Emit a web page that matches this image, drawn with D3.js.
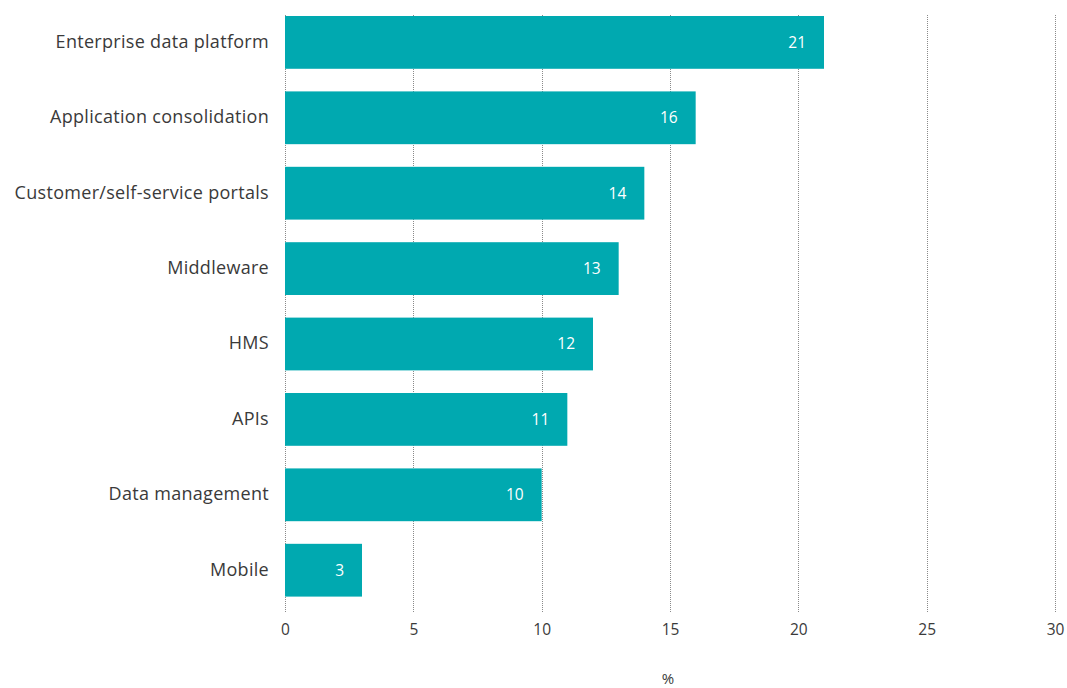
<!DOCTYPE html>
<html>
<head>
<meta charset="utf-8">
<script src="https://cdn.jsdelivr.net/npm/d3@7"></script>
<style>
  html, body { margin: 0; padding: 0; background: #fff; }
  svg { display: block; font-family: "Open Sans", Lato, sans-serif; }
</style>
</head>
<body>
<svg id="chart" width="1067" height="688"></svg>
<script>
// Share of respondents by integration area (%)
const categories = [
  "Enterprise data platform",
  "Application consolidation",
  "Customer/self-service portals",
  "Middleware",
  "HMS",
  "APIs",
  "Data management",
  "Mobile"
];
const values = [21, 16, 14, 13, 12, 11, 10, 3];
const xTicks = [0, 5, 10, 15, 20, 25, 30];
const xTitle = "%";

const svg = d3.select("#chart");
const barColor = "#00a9b0";
const textColor = "#3a3a3a";

const x = d3.scaleLinear().domain([0, 30]).range([285, 1055]);
const y = d3.scaleBand().domain(categories).range([16, 596.6]).paddingInner(0.3).paddingOuter(0);

// dotted vertical gridlines
svg.append("g")
  .selectAll("line")
  .data(xTicks)
  .join("line")
  .attr("x1", d => Math.round(x(d)) + 0.5)
  .attr("x2", d => Math.round(x(d)) + 0.5)
  .attr("y1", 15)
  .attr("y2", 612)
  .attr("stroke", "#8a8a8a")
  .attr("stroke-width", 1)
  .attr("stroke-dasharray", "1,1");

// bars
svg.append("g")
  .selectAll("rect")
  .data(categories)
  .join("rect")
  .attr("x", x(0))
  .attr("y", d => y(d))
  .attr("width", (d, i) => x(values[i]) - x(0))
  .attr("height", y.bandwidth())
  .attr("fill", barColor);

// value labels inside bar ends
svg.append("g")
  .selectAll("text")
  .data(categories)
  .join("text")
  .attr("x", (d, i) => x(values[i]) - 18)
  .attr("y", d => y(d) + y.bandwidth() / 2)
  .attr("dy", "0.35em")
  .attr("text-anchor", "end")
  .attr("fill", "#ffffff")
  .style("font-size", "15.5px")
  .text((d, i) => values[i]);

// category axis labels
svg.append("g")
  .selectAll("text")
  .data(categories)
  .join("text")
  .attr("x", 269)
  .attr("y", d => y(d) + y.bandwidth() / 2)
  .attr("dy", "0.3em")
  .attr("text-anchor", "end")
  .attr("fill", textColor)
  .style("font-size", "18px")
  .style("letter-spacing", "0.3px")
  .text(d => d);

// x axis tick labels
const xAxis = d3.axisBottom(x).tickValues(xTicks).tickSize(0).tickPadding(0);
const gx = svg.append("g").attr("transform", "translate(0,624)").call(xAxis);
gx.select(".domain").remove();
gx.selectAll("text")
  .attr("fill", textColor)
  .style("font-size", "15.5px")
  .style("font-family", "'Open Sans', Lato, sans-serif");

// axis title
svg.append("text")
  .attr("x", x(15) - 2)
  .attr("y", 684)
  .attr("text-anchor", "middle")
  .attr("fill", textColor)
  .style("font-size", "15px")
  .text(xTitle);
</script>
</body>
</html>
